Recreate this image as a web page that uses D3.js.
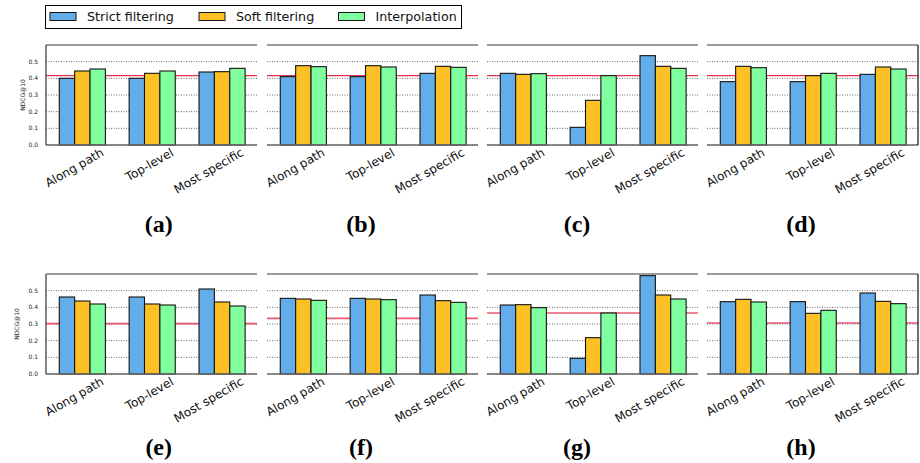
<!DOCTYPE html>
<html>
<head>
<meta charset="utf-8">
<script src="https://cdn.jsdelivr.net/npm/d3@7"></script>
<style>
  html, body { margin: 0; padding: 0; background: #fff; }
  svg { display: block; }
</style>
</head>
<body>
<svg id="chart" width="920" height="463"></svg>
<script>
// Categories, series and per-panel NDCG@10 values
const categories = ["Along path", "Top-level", "Most specific"];
const seriesNames = ["Strict filtering", "Soft filtering", "Interpolation"];
const panelLabels = ["(a)", "(b)", "(c)", "(d)", "(e)", "(f)", "(g)", "(h)"];
const yTicks = [0.0, 0.1, 0.2, 0.3, 0.4, 0.5];
const yTickLabels = ["0.0", "0.1", "0.2", "0.3", "0.4", "0.5"];
const yLabel = "NDCG@10";

const strictFiltering = [
  [0.400, 0.400, 0.438],
  [0.410, 0.410, 0.430],
  [0.430, 0.106, 0.536],
  [0.380, 0.380, 0.424],
  [0.462, 0.462, 0.510],
  [0.454, 0.454, 0.474],
  [0.414, 0.094, 0.590],
  [0.434, 0.434, 0.486]
];
const softFiltering = [
  [0.444, 0.430, 0.440],
  [0.476, 0.476, 0.472],
  [0.424, 0.268, 0.472],
  [0.472, 0.416, 0.468],
  [0.438, 0.420, 0.432],
  [0.450, 0.450, 0.440],
  [0.416, 0.218, 0.474],
  [0.448, 0.364, 0.436]
];
const interpolation = [
  [0.456, 0.444, 0.460],
  [0.470, 0.468, 0.466],
  [0.428, 0.416, 0.460],
  [0.464, 0.430, 0.456],
  [0.420, 0.414, 0.408],
  [0.442, 0.446, 0.430],
  [0.398, 0.366, 0.450],
  [0.432, 0.382, 0.422]
];
// Reference (baseline) score drawn as a horizontal line in each panel
const baseline = [0.416, 0.416, 0.416, 0.416, 0.302, 0.334, 0.366, 0.306];

// ---- layout & style ----
const colors = ["#63aeea", "#fec125", "#80ff9f"];
const panelLeft = [46, 267, 487, 707];
const panelWidth = 211;
const rowTop = [45, 274];
const panelHeight = 100;
const captionX = [158.7, 361, 577, 801];
const captionY = [232, 455];
const yLabelX = [22.5, 16.5];
const barWidth = 0.22;

const svg = d3.select("#chart");
const allSeries = [strictFiltering, softFiltering, interpolation];

panelLabels.forEach((label, p) => {
  const row = Math.floor(p / 4), col = p % 4;
  const x0 = panelLeft[col], y0 = rowTop[row];

  const x = d3.scaleLinear().domain([-0.52, 2.5]).range([0, panelWidth]);
  const y = d3.scaleLinear().domain([0, 0.6]).range([panelHeight, 0]);

  const g = svg.append("g").attr("transform", `translate(${x0},${y0})`);

  // dotted horizontal grid
  g.selectAll("line.grid").data(yTicks).join("line")
    .attr("class", "grid")
    .attr("x1", 0).attr("x2", panelWidth)
    .attr("y1", d => y(d)).attr("y2", d => y(d))
    .attr("stroke", "#666").attr("stroke-width", 1)
    .attr("stroke-dasharray", "1,1.5");

  // baseline reference line
  g.append("line")
    .attr("x1", 0).attr("x2", panelWidth)
    .attr("y1", y(baseline[p])).attr("y2", y(baseline[p]))
    .attr("stroke", "#e8304f")
    .attr("stroke-width", row === 0 ? 1.1 : 1.6)
    .attr("stroke-opacity", row === 0 ? 1 : 0.8);

  // bars
  allSeries.forEach((series, s) => {
    g.selectAll(`rect.s${s}`).data(series[p]).join("rect")
      .attr("class", `s${s}`)
      .attr("x", (d, i) => x(i + (s - 1) * barWidth - barWidth / 2))
      .attr("width", x(barWidth) - x(0))
      .attr("y", d => y(d))
      .attr("height", d => y(0) - y(d))
      .attr("fill", colors[s])
      .attr("stroke", "#141414")
      .attr("stroke-width", 1.1);
  });

  // spines
  g.append("line").attr("x1", 0).attr("x2", panelWidth).attr("y1", 0).attr("y2", 0)
    .attr("stroke", "#7a7a7a").attr("stroke-width", 1.6);
  g.append("line").attr("x1", 0).attr("x2", panelWidth).attr("y1", panelHeight).attr("y2", panelHeight)
    .attr("stroke", "#6a6a6a").attr("stroke-width", 1.6);
  if (col === 0) {
    g.append("line").attr("x1", 0).attr("x2", 0).attr("y1", 0).attr("y2", panelHeight)
      .attr("stroke", "#333").attr("stroke-width", 1.2);
    // y tick labels
    g.selectAll("text.ytick").data(yTicks).join("text")
      .attr("class", "ytick")
      .attr("x", -8).attr("y", d => y(d))
      .attr("dy", "0.35em")
      .attr("text-anchor", "end")
      .attr("font-family", "DejaVu Sans")
      .attr("font-size", 6)
      .attr("fill", "#222")
      .text((d, i) => yTickLabels[i]);
    svg.append("text")
      .attr("transform", `translate(${yLabelX[row]},${y0 + panelHeight / 2}) rotate(-90)`)
      .attr("text-anchor", "middle")
      .attr("dy", "0.35em")
      .attr("font-family", "DejaVu Sans")
      .attr("font-size", 6)
      .attr("fill", "#222")
      .text(yLabel);
  }
  if (col === 3) {
    g.append("line").attr("x1", panelWidth).attr("x2", panelWidth).attr("y1", 0).attr("y2", panelHeight)
      .attr("stroke", "#111").attr("stroke-width", 1.2);
  }

  // rotated category labels
  g.selectAll("text.xtick").data(categories).join("text")
    .attr("class", "xtick")
    .attr("transform", (d, i) => `translate(${x(i + 0.32)},${panelHeight + 10}) rotate(-30)`)
    .attr("text-anchor", "end")
    .attr("font-family", "DejaVu Sans")
    .attr("font-size", 12)
    .attr("fill", "#111")
    .text(d => d);

  // panel caption
  svg.append("text")
    .attr("x", captionX[col]).attr("y", captionY[row])
    .attr("text-anchor", "middle")
    .attr("font-family", "Liberation Serif")
    .attr("font-weight", "bold")
    .attr("font-size", 24)
    .attr("fill", "#000")
    .text(label);
});

// legend
const legend = svg.append("g");
legend.append("rect")
  .attr("x", 45.5).attr("y", 5.5).attr("width", 416).attr("height", 23)
  .attr("fill", "#fff").attr("stroke", "#000").attr("stroke-width", 1);
const legendX = [50, 199, 338.5];
seriesNames.forEach((name, s) => {
  legend.append("rect")
    .attr("x", legendX[s]).attr("y", 12.5).attr("width", 26).attr("height", 8)
    .attr("fill", colors[s]).attr("stroke", "#141414").attr("stroke-width", 1);
  legend.append("text")
    .attr("x", legendX[s] + 37).attr("y", 21)
    .attr("font-family", "DejaVu Sans")
    .attr("font-size", 12.7)
    .attr("fill", "#111")
    .text(name);
});
</script>
</body>
</html>
